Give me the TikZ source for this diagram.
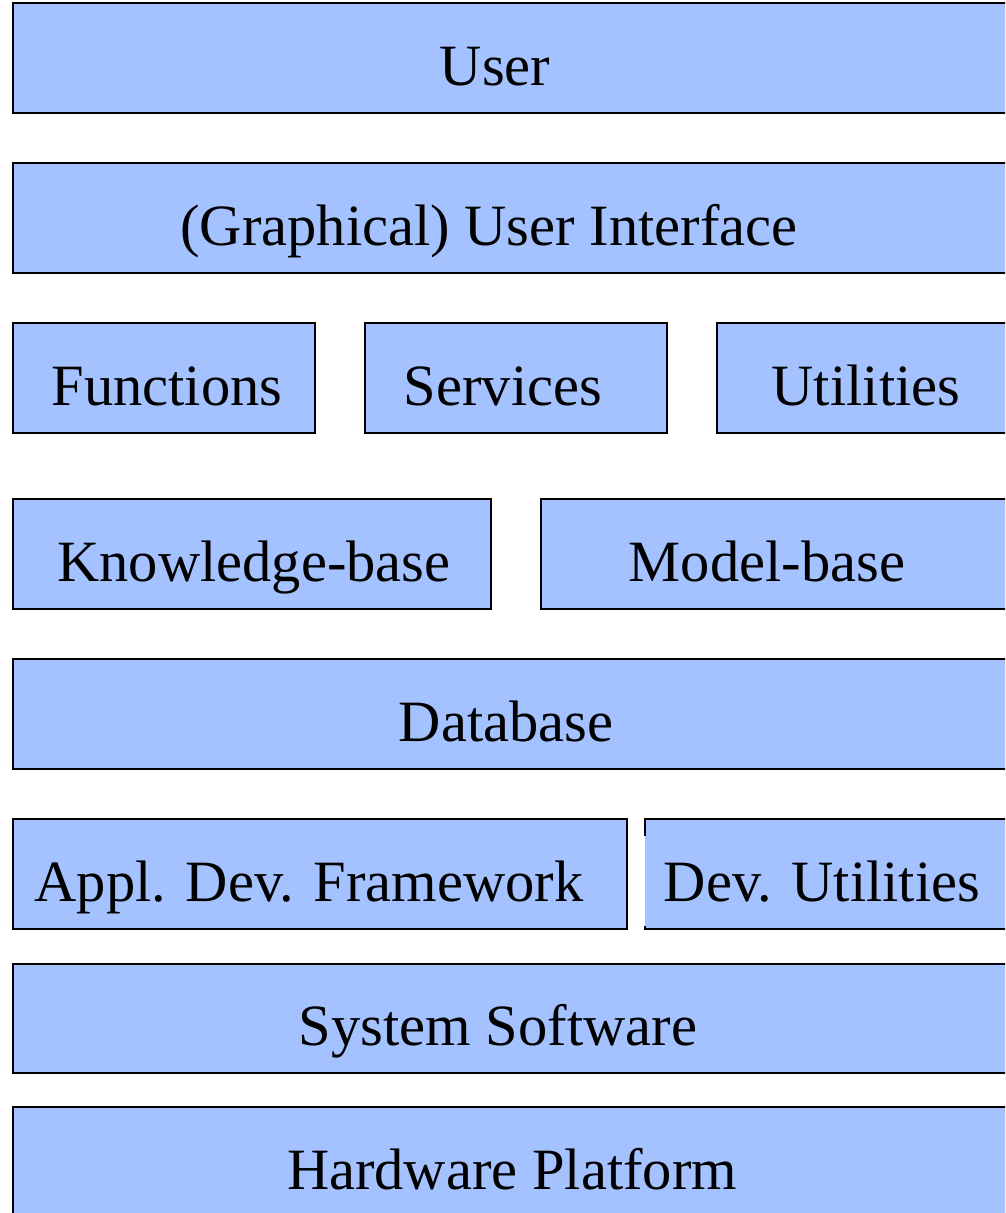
\documentclass[tikz,border=0pt]{standalone}
\usepackage{fontspec}
\setmainfont{Liberation Serif}
\definecolor{boxblue}{HTML}{A4C2FF}
\begin{document}
\begin{tikzpicture}[x=1pt,y=-1pt,
  layer/.style={fill=boxblue,draw=black,line width=2.5pt},
  lbl/.style={anchor=base,inner sep=0pt,font=\fontsize{58.5}{60}\selectfont}]
\useasboundingbox (0,0) rectangle (1005,1213);
\clip (0,0) rectangle (1005,1213);
% row 1
\path[layer] (13,3) rectangle (1030,113);
\node[lbl] (user) at (495,85) {User};
% row 2
\path[layer] (13,163) rectangle (1030,273);
\node[lbl] (gui) at (489,245) {(Graphical) User Interface};
% row 3
\path[layer] (13,323) rectangle (315,433);
\node[lbl] (functions) at (167,405) {Functions};
\path[layer] (365,323) rectangle (667,433);
\node[lbl] (services) at (503,405) {Services};
\path[layer] (717,323) rectangle (1030,433);
\node[lbl] (utilities) at (866,405) {Utilities};
% row 4
\path[layer] (13,499) rectangle (491,609);
\node[lbl] (kb) at (254,581) {Knowledge-base};
\path[layer] (541,499) rectangle (1030,609);
\node[lbl] (mb) at (767,581) {Model-base};
% row 5
\path[layer] (13,659) rectangle (1030,769);
\node[lbl] (db) at (506,741) {Database};
% row 6
\path[layer] (13,819) rectangle (627,929);
\node[lbl] (adf) at (309,901) {Appl. Dev. Framework};
\fill[boxblue] (645,819) rectangle (1030,929);
\draw[line width=2.5pt] (645,836) -- (645,819) -- (1030,819);
\draw[line width=2.5pt] (645,926) -- (645,929) -- (1030,929);
\node[lbl] (devutil) at (822,901) {Dev. Utilities};
% row 7
\path[layer] (13,964) rectangle (1030,1073);
\node[lbl] (syssw) at (498,1045) {System Software};
% row 8
\path[layer] (13,1107) rectangle (1030,1240);
\node[lbl] (hw) at (512,1189) {Hardware Platform};
\end{tikzpicture}
\end{document}
